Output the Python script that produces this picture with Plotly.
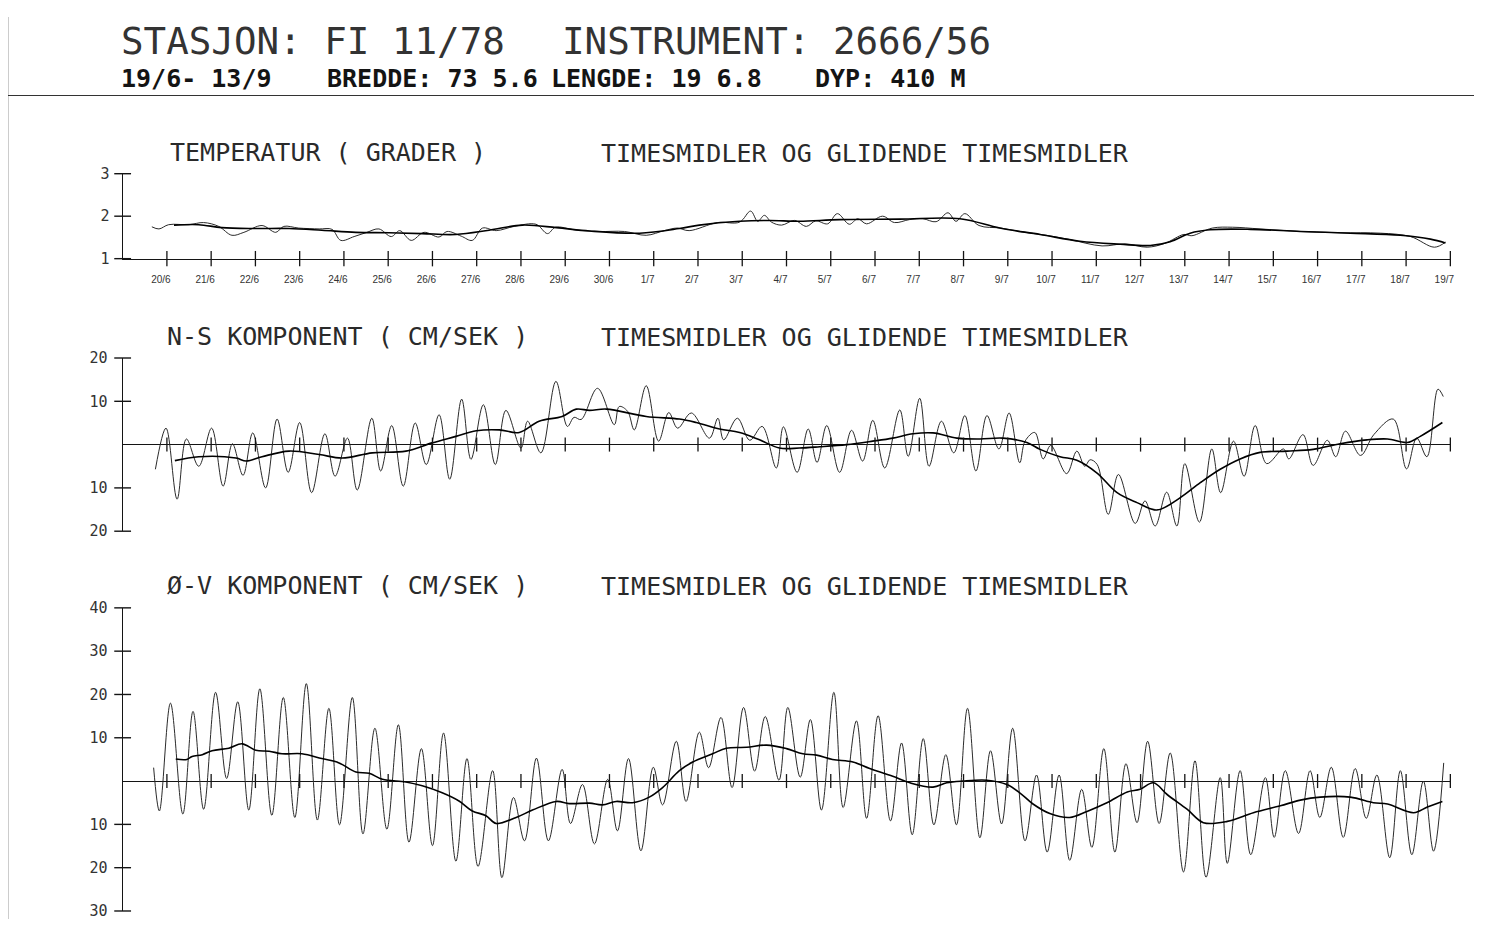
import plotly.graph_objects as go

# ---------------- data (days since 19/6 00:00) ----------------
tick_days = list(range(1, 31))
date_labels = ["20/6", "21/6", "22/6", "23/6", "24/6", "25/6", "26/6", "27/6", "28/6", "29/6", "30/6",
               "1/7", "2/7", "3/7", "4/7", "5/7", "6/7", "7/7", "8/7", "9/7", "10/7", "11/7", "12/7",
               "13/7", "14/7", "15/7", "16/7", "17/7", "18/7", "19/7"]

temp_ticks = [1, 2, 3]
temp_ticktext = ["1", "2", "3"]
ns_ticks = [-20, -10, 10, 20]
ns_ticktext = ["20", "10", "10", "20"]
ov_ticks = [-30, -20, -10, 10, 20, 30, 40]
ov_ticktext = ["30", "20", "10", "10", "20", "30", "40"]

temp_raw_t = [0.66, 0.82, 1.04, 1.50, 1.83, 2.17, 2.47, 2.74, 3.15, 3.46, 3.64, 3.98, 4.44, 4.73, 4.93,
              5.23, 5.52, 5.79, 6.07, 6.26, 6.52, 6.81, 7.15, 7.33, 7.65, 7.90, 8.13, 8.44, 8.85, 9.34,
              9.60, 9.78, 10.21, 10.77, 11.34, 11.83, 12.24, 12.53, 12.80, 13.44, 13.94, 14.19, 14.35,
              14.50, 14.66, 14.89, 15.18, 15.45, 15.66, 15.93, 16.15, 16.42, 16.61, 16.81, 17.17, 17.44,
              17.78, 18.08, 18.38, 18.65, 18.83, 19.03, 19.35, 19.84, 20.39, 20.87, 21.40, 22.13, 22.65,
              23.15, 23.55, 23.98, 24.16, 24.62, 25.08, 25.70, 26.61, 27.51, 28.42, 29.10, 29.64, 29.89]
temp_raw_v = [1.75, 1.70, 1.80, 1.80, 1.85, 1.76, 1.55, 1.62, 1.78, 1.62, 1.76, 1.72, 1.70, 1.69, 1.43,
              1.52, 1.62, 1.70, 1.52, 1.66, 1.43, 1.62, 1.51, 1.64, 1.53, 1.43, 1.72, 1.66, 1.76, 1.81,
              1.59, 1.74, 1.68, 1.64, 1.64, 1.55, 1.66, 1.72, 1.66, 1.85, 1.86, 2.12, 1.88,
              2.02, 1.86, 1.79, 1.90, 1.76, 1.89, 1.82, 2.06, 1.81, 1.94, 1.82, 2.00, 1.85,
              1.92, 1.94, 1.87, 2.08, 1.88, 2.06, 1.78, 1.72, 1.62, 1.55, 1.45, 1.30, 1.35,
              1.27, 1.36, 1.57, 1.54, 1.72, 1.74, 1.70, 1.64, 1.61, 1.60, 1.52, 1.27, 1.39]

temp_smooth_t = [1.16, 1.72, 2.24, 3.01, 3.76, 4.50, 5.27, 6.02, 6.77, 7.53, 8.28, 9.03, 9.80, 10.55,
                 11.68, 12.58, 13.03, 13.94, 14.63, 15.29, 16.20, 17.56, 18.92, 19.82, 20.73, 21.63,
                 22.54, 23.22, 23.67, 24.12, 24.57, 25.48, 26.61, 27.74, 28.87, 29.55, 29.89]
temp_smooth_v = [1.79, 1.80, 1.73, 1.71, 1.71, 1.67, 1.62, 1.61, 1.59, 1.57, 1.67, 1.79, 1.73, 1.65,
                 1.60, 1.71, 1.79, 1.88, 1.90, 1.88, 1.92, 1.93, 1.94, 1.72, 1.57, 1.41,
                 1.34, 1.31, 1.40, 1.60, 1.68, 1.69, 1.64, 1.60, 1.55, 1.46, 1.37]

ns_raw_t = [0.74, 0.98, 1.23, 1.44, 1.72, 2.01, 2.27, 2.48, 2.72, 2.94, 3.23, 3.49, 3.74, 4.00, 4.27,
            4.57, 4.80, 5.08, 5.30, 5.63, 5.83, 6.08, 6.34, 6.61, 6.86, 7.15, 7.39, 7.66, 7.87, 8.15,
            8.42, 8.66, 9.00, 9.15, 9.45, 9.79, 10.05, 10.20, 10.36, 10.73, 11.11, 11.22, 11.41, 11.56,
            11.83, 12.11, 12.34, 12.54, 12.85, 13.26, 13.45, 13.58, 13.89, 14.17, 14.45, 14.77, 14.93,
            15.24, 15.49, 15.69, 15.91, 16.20, 16.47, 16.72, 16.95, 17.22, 17.56, 17.75, 18.01, 18.22,
            18.50, 18.78, 19.03, 19.28, 19.53, 19.80, 20.03, 20.27, 20.39, 20.61, 20.80, 20.97, 21.33,
            21.56, 21.74, 21.86, 22.02, 22.27, 22.50, 22.88, 23.10, 23.33, 23.59, 23.82, 24.00, 24.33,
            24.61, 24.81, 25.10, 25.34, 25.59, 25.85, 26.23, 26.35, 26.67, 26.90, 27.22, 27.41, 27.63,
            27.97, 28.27, 28.71, 29.01, 29.24, 29.47, 29.72, 29.84]
ns_raw_v = [-5.7, 3.8, -12.6, 1.3, -5.0, 3.8, -9.6, 0.2, -7.1, 2.7, -10.0, 5.9, -6.4, 5.1, -11.1,
            2.5, -7.3, 1.5, -10.5, 6.1, -6.1, 4.4, -9.6, 5.0, -4.6, 6.9, -8.0, 10.5, -3.4, 9.2,
            -4.6, 7.9, -0.8, 5.4, -1.9, 14.6, 4.2, 6.3, 5.8, 13.0, 4.6, 8.8, 7.7, 3.4,
            13.6, 0.8, 7.4, 3.8, 7.3, 1.5, 6.1, 1.1, 6.1, 1.0, 4.2, -5.4, 4.1,
            -6.4, 3.6, -4.1, 4.4, -6.4, 3.3, -3.8, 5.6, -5.4, 8.0, -2.7, 10.7, -5.0,
            5.4, -1.9, 6.7, -6.1, 6.7, -1.0, 7.3, -4.2, 0.8, 2.8, -3.3, -0.2, -6.7,
            -1.5, -5.0, -3.5, -4.6, -16.1, -6.9, -18.2, -13.0, -18.8, -11.0, -18.8, -4.4, -17.9,
            -1.0, -11.1, 0.8, -7.3, 4.4, -4.4, -1.0, -3.3, 2.3, -4.8, 1.0, -2.8, 3.1,
            -2.5, 2.3, 5.9, -5.6, 1.5, -2.8, 12.8, 11.1]

ns_smooth_t = [1.18, 1.72, 2.56, 2.79, 3.15, 3.76, 4.44, 4.96, 5.64, 6.40, 6.99, 7.53, 7.99, 8.51, 8.96,
               9.41, 9.93, 10.25, 10.55, 10.93, 11.83, 12.58, 12.96, 13.49, 13.94, 14.39, 14.84, 15.29,
               15.75, 16.36, 16.95, 17.40, 17.86, 18.31, 18.85, 19.37, 19.89, 20.43, 20.73, 21.18,
               21.56, 22.01, 22.47, 22.92, 23.37, 23.89, 24.35, 24.80, 25.25, 25.70, 26.31, 26.90,
               27.51, 28.12, 28.58, 29.03, 29.32, 29.82]
ns_smooth_v = [-3.7, -2.8, -3.1, -3.8, -2.8, -1.5, -2.3, -3.1, -1.9, -1.5, 0.4, 1.9, 3.2, 3.4, 2.8,
               5.4, 6.5, 8.2, 7.9, 8.2, 6.5, 5.9, 5.1, 3.6, 2.8, 1.1, -0.8, -0.8,
               -0.5, 0.0, 0.8, 1.5, 2.5, 2.7, 1.5, 1.3, 1.5, 0.5, -1.1, -2.8,
               -3.6, -6.5, -11.1, -13.4, -15.1, -12.3, -8.8, -5.7, -3.3, -1.8, -1.5, -1.1,
               0.2, 1.1, 1.3, 0.5, 1.9, 5.1]

ov_raw_t = [0.70, 0.83, 1.08, 1.36, 1.59, 1.83, 2.10, 2.35, 2.60, 2.85, 3.10, 3.37, 3.63, 3.89, 4.15,
            4.40, 4.66, 4.90, 5.19, 5.43, 5.70, 5.97, 6.23, 6.47, 6.75, 7.00, 7.25, 7.53, 7.78, 8.03,
            8.36, 8.57, 8.83, 9.08, 9.35, 9.62, 9.93, 10.12, 10.39, 10.66, 10.96, 11.18, 11.43, 11.71,
            11.99, 12.20, 12.51, 12.73, 13.03, 13.24, 13.52, 13.77, 14.03, 14.28, 14.52, 14.83, 15.03,
            15.31, 15.54, 15.79, 16.07, 16.28, 16.58, 16.81, 17.07, 17.35, 17.60, 17.84, 18.09, 18.33,
            18.60, 18.84, 19.09, 19.37, 19.61, 19.86, 20.11, 20.39, 20.65, 20.89, 21.16, 21.40, 21.67,
            21.90, 22.17, 22.42, 22.67, 22.92, 23.16, 23.42, 23.67, 23.97, 24.23, 24.48, 24.80, 24.96,
            25.25, 25.49, 25.82, 26.02, 26.27, 26.57, 26.83, 27.05, 27.31, 27.58, 27.85, 28.10, 28.34,
            28.63, 28.87, 29.13, 29.39, 29.62, 29.85]
ov_raw_v = [3.1, -6.9, 18.0, -7.6, 16.1, -6.5, 20.5, 0.6, 18.3, -6.7, 21.3, -7.9, 19.3, -8.4, 22.5,
            -9.0, 16.8, -10.1, 19.3, -12.2, 12.2, -11.1, 13.0, -14.1, 7.5, -14.9, 11.1, -18.5, 5.2, -19.7,
            2.4, -22.3, -3.8, -13.8, 5.3, -13.8, 2.7, -9.8, -0.8, -14.5, 0.4, -11.5, 5.2, -16.1,
            3.2, -5.5, 9.2, -4.7, 11.3, 3.1, 14.7, -1.5, 17.0, 2.3, 14.9, 0.2, 17.0,
            0.9, 14.2, -6.7, 20.5, -6.1, 13.9, -8.6, 15.1, -9.2, 8.8, -12.4, 9.8, -10.1,
            6.1, -10.1, 16.8, -13.1, 7.0, -9.9, 12.2, -13.8, 1.4, -16.4, 1.4, -18.3, -1.9,
            -15.3, 7.5, -16.4, 4.0, -9.6, 9.2, -9.8, 6.5, -21.0, 4.7, -22.2, 0.8, -19.0,
            2.4, -17.0, 0.8, -13.0, 2.4, -12.1, 2.4, -8.4, 3.2, -13.0, 2.9, -8.6, 1.4,
            -17.7, 2.4, -17.0, 0.0, -16.2, 4.2]

ov_smooth_t = [1.20, 1.45, 1.57, 1.80, 2.02, 2.40, 2.70, 3.01, 3.31, 3.60, 4.05, 4.50, 4.89, 5.27, 5.57,
               5.87, 6.40, 6.77, 7.22, 7.60, 7.90, 8.21, 8.44, 8.89, 9.26, 9.80, 10.09, 10.55, 10.84,
               11.15, 11.52, 11.90, 12.20, 12.58, 12.88, 13.33, 13.64, 14.10, 14.55, 15.00, 15.37,
               15.68, 16.04, 16.50, 16.88, 17.40, 17.79, 18.31, 18.62, 18.98, 19.53, 19.98, 20.27,
               20.57, 20.95, 21.40, 21.79, 22.24, 22.70, 22.99, 23.29, 23.60, 24.05, 24.42, 24.96,
               25.55, 26.16, 26.61, 27.06, 27.74, 28.26, 28.58, 29.17, 29.48, 29.82]
ov_smooth_v = [5.1, 5.0, 5.7, 6.1, 7.0, 7.6, 8.6, 7.1, 6.9, 6.3, 6.3, 5.2, 4.2, 2.1, 1.8,
               0.4, -0.2, -1.1, -2.7, -4.6, -6.9, -8.0, -9.8, -8.4, -6.7, -4.7, -5.2, -5.1, -5.5,
               -4.7, -5.0, -3.7, -1.5, 2.4, 4.4, 6.3, 7.6, 7.8, 8.3, 7.5, 6.3,
               6.0, 5.0, 4.4, 2.9, 1.1, -0.4, -1.4, -0.4, 0.0, 0.2, -0.8, -2.7,
               -5.3, -7.5, -8.4, -7.0, -5.0, -2.5, -1.9, -0.4, -3.1, -6.5, -9.6, -9.3,
               -7.3, -5.7, -4.4, -3.7, -3.7, -5.0, -5.3, -7.3, -6.0, -4.7]

# ---------------- layout helpers ----------------
# Figure size chosen so the page fits the window; positions below are given in
# the pixels of the final picture and mapped back to paper fractions using the
# offset/scale measured on a previous rendering.
W, H = 1470, 920
OX, SX = 9.4, 0.996
OY, SY = 16.5, 0.981


def px(x):
    return ((x - OX) / SX) / W


def py(y):
    return 1 - ((y - OY) / SY) / H


INK = "#141414"
MONO = "DejaVu Sans Mono"
xdom = [px(123.9), px(1449.9)]

fig = go.Figure()

panels = [
    ("x", "y", temp_raw_t, temp_raw_v, temp_smooth_t, temp_smooth_v),
    ("x2", "y2", ns_raw_t, ns_raw_v, ns_smooth_t, ns_smooth_v),
    ("x3", "y3", ov_raw_t, ov_raw_v, ov_smooth_t, ov_smooth_v),
]
for xa, ya, rt, rv, st, sv in panels:
    fig.add_trace(go.Scatter(x=rt, y=rv, xaxis=xa, yaxis=ya, mode="lines",
                             line=dict(color="#2a2a2a", width=1, shape="spline", smoothing=1.0),
                             hoverinfo="skip", showlegend=False))
    fig.add_trace(go.Scatter(x=st, y=sv, xaxis=xa, yaxis=ya, mode="lines",
                             line=dict(color="#000000", width=1.6, shape="spline", smoothing=1.0),
                             hoverinfo="skip", showlegend=False))

# "+" tick crosses on the axes
cross_specs = [
    ("x", "y", temp_ticks, 1, 11),
    ("x2", "y2", ns_ticks, 0, 10),
    ("x3", "y3", ov_ticks, 0, 10),
]
for xa, ya, yt, xbase, sz in cross_specs:
    fig.add_trace(go.Scatter(x=[0] * len(yt), y=yt, xaxis=xa, yaxis=ya, mode="markers",
                             marker=dict(symbol="line-ew", size=12, line=dict(color=INK, width=1.4)),
                             cliponaxis=False, hoverinfo="skip", showlegend=False))
    fig.add_trace(go.Scatter(x=tick_days, y=[xbase] * len(tick_days), xaxis=xa, yaxis=ya, mode="markers",
                             marker=dict(symbol="line-ns", size=sz, line=dict(color=INK, width=1.3)),
                             cliponaxis=False, hoverinfo="skip", showlegend=False))

ylabfont = dict(family=MONO, size=15, color="#333333")

common_x = dict(domain=xdom, range=[0, 30], showgrid=False, zeroline=False, fixedrange=True)
fig.update_layout(
    width=W, height=H, margin=dict(l=0, r=0, t=0, b=0),
    paper_bgcolor="white", plot_bgcolor="rgba(0,0,0,0)",
    showlegend=False,
    xaxis=dict(**common_x, anchor="y", showline=True, linecolor=INK, linewidth=1.4,
               tickvals=tick_days, ticktext=date_labels, ticks="",
               tickfont=dict(family="Liberation Sans", size=10, color="#333333"),
               ticklabelstandoff=11, ticklabelshift=-6),
    xaxis2=dict(**common_x, anchor="y2", visible=False),
    xaxis3=dict(**common_x, anchor="y3", visible=False),
    yaxis=dict(domain=[py(258.3), py(173.3)], range=[1, 3], anchor="x", showline=True,
               linecolor=INK, linewidth=1.3, tickvals=temp_ticks, ticktext=temp_ticktext, ticks="",
               tickfont=ylabfont, ticklabelstandoff=9, showgrid=False, zeroline=False, fixedrange=True),
    yaxis2=dict(domain=[py(531), py(357.7)], range=[-20, 20], anchor="x2", showline=True,
                linecolor=INK, linewidth=1.3, tickvals=ns_ticks, ticktext=ns_ticktext, ticks="",
                tickfont=ylabfont, ticklabelstandoff=11, showgrid=False,
                zeroline=True, zerolinecolor=INK, zerolinewidth=1.4, fixedrange=True),
    yaxis3=dict(domain=[py(911), py(607.7)], range=[-30, 40], anchor="x3", showline=True,
                linecolor=INK, linewidth=1.3, tickvals=ov_ticks, ticktext=ov_ticktext, ticks="",
                tickfont=ylabfont, ticklabelstandoff=11, showgrid=False,
                zeroline=True, zerolinecolor=INK, zerolinewidth=1.4, fixedrange=True),
)

# frame lines of the sheet
fig.add_shape(type="line", xref="paper", yref="paper", x0=px(9), x1=px(9), y0=0, y1=1,
              line=dict(color="#333333", width=1.3))
fig.add_shape(type="line", xref="paper", yref="paper", x0=px(9), x1=1, y0=py(95), y1=py(95),
              line=dict(color="#333333", width=1.1))


def label(text, x, y, size, bold=False, color=INK):
    fig.add_annotation(text=text, xref="paper", yref="paper", x=px(x), y=py(y),
                       xanchor="left", yanchor="middle", showarrow=False,
                       font=dict(family=MONO, size=size, color=color,
                                 weight="bold" if bold else "normal"))


label("STASJON: FI 11/78", 120, 41, 37.5, color="#333333")
label("INSTRUMENT: 2666/56", 561, 41, 37.5, color="#333333")
label("19/6- 13/9", 120, 78, 25, bold=True)
label("BREDDE: 73 5.6", 326, 78, 25, bold=True)
label("LENGDE: 19 6.8", 550, 78, 25, bold=True)
label("DYP: 410 M", 813, 78, 25, bold=True)

label("TEMPERATUR ( GRADER )", 169, 152, 25, color="#2a2a2a")
label("TIMESMIDLER OG GLIDENDE TIMESMIDLER", 600, 153, 25, color="#2a2a2a")
label("N-S KOMPONENT ( CM/SEK )", 166, 336, 25, color="#2a2a2a")
label("TIMESMIDLER OG GLIDENDE TIMESMIDLER", 600, 337, 25, color="#2a2a2a")
label("Ø-V KOMPONENT ( CM/SEK )", 166, 585, 25, color="#2a2a2a")
label("TIMESMIDLER OG GLIDENDE TIMESMIDLER", 600, 586, 25, color="#2a2a2a")

fig.write_html("out.html")
